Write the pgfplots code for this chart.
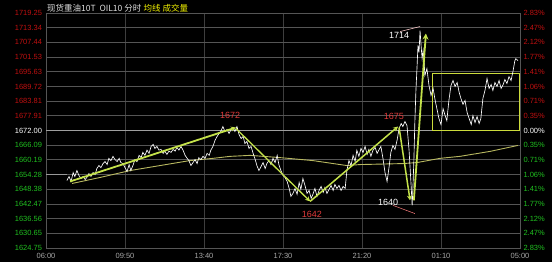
\documentclass[border=0pt]{standalone}
\usepackage{pgfplots}
\pgfplotsset{compat=1.18}
\usepackage{fontspec}
\setmainfont{Liberation Sans}
\newfontfamily\cjk{Noto Sans CJK SC}
\usetikzlibrary{arrows.meta}
\definecolor{gridc}{HTML}{555555}
\definecolor{vgridc}{HTML}{3E3E3E}
\definecolor{upred}{HTML}{C01010}
\definecolor{dngreen}{HTML}{20C020}
\definecolor{lime}{HTML}{C4E24A}
\definecolor{boxc}{HTML}{CCDC3C}
\definecolor{maline}{HTML}{B8B860}
\definecolor{lblred}{HTML}{E03A3A}
\definecolor{ttlc}{HTML}{E0E0E0}
\definecolor{ylw}{HTML}{F0F000}
\definecolor{xlbl}{HTML}{A8A8A8}
\begin{document}
\begin{tikzpicture}
\useasboundingbox (0,0) rectangle (552pt,262pt);
\fill[black] (0,0) rectangle (552pt,262pt);
\pgfplotsset{
  chartbase/.style={
    at={(46pt,14pt)}, anchor=south west,
    width=474pt, height=235pt, scale only axis,
    xmin=0, xmax=1380, ymin=1624.75, ymax=1719.25,
    /pgf/number format/assume math mode=true,
    major tick length=0pt,
    ytick={1624.75,1630.65,1636.56,1642.47,1648.38,1654.28,1660.19,1666.09,1672.00,1677.91,1683.81,1689.72,1695.63,1701.53,1707.44,1713.34,1719.25},
    tick label style={font=\fontsize{7.5}{8}\selectfont},
  }
}
\begin{axis}[chartbase,
  axis line style={draw=gridc},
  xtick={0,230,460,690,920,1150,1380},
  xticklabels={06:00,09:50,13:40,17:30,21:20,01:10,05:00},
  xticklabel style={text=xlbl, yshift=-1.5pt},
  yticklabels={
    \textcolor{dngreen}{1624.75},\textcolor{dngreen}{1630.65},\textcolor{dngreen}{1636.56},\textcolor{dngreen}{1642.47},\textcolor{dngreen}{1648.38},\textcolor{dngreen}{1654.28},\textcolor{dngreen}{1660.19},\textcolor{dngreen}{1666.09},
    \textcolor{white}{1672.00},
    \textcolor{upred}{1677.91},\textcolor{upred}{1683.81},\textcolor{upred}{1689.72},\textcolor{upred}{1695.63},\textcolor{upred}{1701.53},\textcolor{upred}{1707.44},\textcolor{upred}{1713.34},\textcolor{upred}{1719.25}},
  yticklabel style={xshift=-0.5pt},
  xmajorgrids, ymajorgrids,
  x grid style={draw=vgridc, line width=0.8pt},
  y grid style={draw=gridc, line width=0.8pt},
  clip=false,
]
% reference level
\addplot[draw=gray!75, line width=0.8pt] coordinates {(0,1672.00) (1380,1672.00)};
\addplot[draw=gray!80, line width=1pt] coordinates {(0,1654.28) (61,1654.28)};
% moving average
\addplot[draw=maline, line width=0.9pt] coordinates {
(76,1650.7) (157,1653.1) (245,1655.9) (332,1657.9) (419,1659.9) (486,1660.8) (536,1661.6) (594,1662.0)
(681,1661.1) (777,1659.9) (876,1657.9) (914,1658.3) (1039,1658.7) (1080,1659.1) (1147,1660.8) (1205,1661.6)
(1293,1663.6) (1374,1666.0)};
% box
\addplot[draw=boxc, line width=1.1pt] coordinates {(1124,1672.0) (1124,1694.9) (1379,1694.9) (1379,1672.0) (1124,1672.0)};
% price
\addplot[draw=white, line width=0.65pt] coordinates {
(61,1651.9) (67,1653.5) (73,1651.5) (79,1655.1) (84,1653.5) (90,1655.9) (96,1653.9) (102,1652.7) (108,1653.5)
(114,1652.3) (119,1653.1) (125,1654.7) (131,1653.5) (137,1655.1) (143,1654.3) (148,1656.7) (154,1657.9)
(160,1657.1) (166,1658.7) (172,1659.5) (178,1658.3) (183,1660.8) (189,1659.9) (195,1661.6) (201,1660.3)
(207,1659.5) (213,1660.8) (218,1659.1) (224,1658.7) (230,1657.1) (236,1655.5) (242,1658.3) (247,1655.9)
(253,1657.9) (259,1660.3) (265,1659.5) (271,1662.0) (277,1661.1) (282,1663.2) (288,1662.0) (294,1664.1)
(300,1662.8) (306,1665.6) (312,1666.4) (317,1664.8) (323,1665.6) (329,1664.1) (335,1664.4) (341,1662.8)
(346,1663.7) (352,1662.4) (358,1663.7) (364,1663.2) (370,1664.4) (376,1663.7) (381,1665.2) (387,1664.1)
(393,1665.6) (399,1664.1) (405,1662.0) (411,1660.8) (416,1659.9) (422,1657.9) (428,1659.1) (434,1660.3)
(440,1658.7) (445,1661.1) (451,1660.3) (457,1661.6) (463,1660.8) (469,1662.8) (475,1662.0) (480,1664.1)
(486,1665.6) (492,1668.0) (498,1669.6) (504,1670.8) (510,1672.0) (515,1673.6) (521,1671.6) (527,1672.4)
(533,1670.8) (539,1672.4) (545,1673.2) (550,1671.6) (556,1673.6) (562,1670.4) (568,1668.8) (574,1669.6)
(579,1666.8) (585,1667.6) (591,1664.8) (597,1665.6) (603,1662.8) (608,1660.8) (614,1657.9) (620,1655.9)
(626,1657.5) (632,1659.1) (638,1656.7) (643,1658.7) (649,1659.9) (655,1658.3) (661,1660.8) (667,1659.1)
(673,1662.0) (678,1658.3) (684,1655.9) (690,1653.9) (696,1653.1) (702,1651.5) (708,1648.7) (713,1645.5)
(719,1646.7) (725,1648.7) (731,1646.3) (737,1651.1) (742,1648.3) (748,1652.7) (754,1649.9) (760,1646.7)
(766,1647.9) (772,1644.7) (777,1646.3) (783,1648.7) (789,1645.5) (795,1647.9) (801,1649.5) (807,1647.1)
(812,1649.1) (818,1646.7) (824,1648.3) (830,1649.9) (836,1647.9) (841,1650.3) (847,1648.7) (853,1649.9)
(859,1647.9) (865,1649.5) (871,1648.7) (876,1655.9) (882,1659.9) (888,1657.9) (894,1662.0) (900,1659.5)
(905,1664.1) (911,1661.6) (917,1664.8) (923,1663.2) (929,1665.6) (935,1662.4) (940,1664.4) (946,1661.6)
(952,1664.1) (958,1665.2) (964,1662.8) (970,1664.4) (975,1665.6) (981,1660.8) (987,1655.1) (993,1651.5)
(999,1657.5) (1004,1663.2) (1010,1666.0) (1016,1664.4) (1022,1668.0) (1028,1672.8) (1034,1674.8) (1039,1673.6)
(1045,1675.6) (1051,1674.0) (1057,1664.1) (1063,1649.9) (1066,1641.9) (1068,1647.9) (1071,1659.9) (1074,1676.0)
(1077,1688.1) (1080,1696.9) (1083,1706.2) (1086,1703.4) (1089,1712.2) (1092,1706.2) (1095,1700.9) (1098,1704.2)
(1101,1699.3) (1103,1694.1) (1109,1696.9) (1115,1690.1) (1121,1686.1) (1127,1688.9) (1133,1684.1) (1138,1680.8)
(1144,1676.8) (1150,1674.4) (1156,1680.8) (1162,1678.0) (1167,1676.0) (1173,1684.1) (1179,1690.1) (1185,1692.1)
(1191,1689.7) (1197,1691.3) (1203,1687.3) (1208,1684.9) (1214,1682.5) (1220,1684.1) (1226,1679.2) (1232,1676.8)
(1238,1674.4) (1243,1678.0) (1249,1675.2) (1255,1677.6) (1261,1674.8) (1266,1676.8) (1272,1684.9) (1278,1688.1)
(1284,1692.9) (1290,1688.9) (1296,1690.5) (1301,1688.1) (1307,1691.3) (1313,1689.7) (1319,1692.1) (1325,1688.9)
(1331,1690.5) (1336,1692.5) (1342,1690.9) (1348,1693.7) (1354,1692.1) (1360,1696.1) (1365,1700.1) (1368,1700.9)
(1374,1700.1)};
% trend lines
\addplot[draw=lime, line width=1.8pt, -{Stealth[length=5pt,width=5pt]}] coordinates {(70,1651.5) (553,1673.2)};
\addplot[draw=lime, line width=1.3pt, -{Stealth[length=5pt,width=5pt]}] coordinates {(553,1672.8) (769,1643.5)};
\addplot[draw=lime, line width=1.5pt, -{Stealth[length=5pt,width=5pt]}] coordinates {(769,1643.5) (1025,1673.6)};
\addplot[draw=lime, line width=1.5pt, -{Stealth[length=5pt,width=5pt]}] coordinates {(1028,1673.2) (1060,1643.9)};
\addplot[draw=lime, line width=1.8pt, -{Stealth[length=6pt,width=6pt]}] coordinates {(1071,1643.9) (1106,1711.0)};
% thin pointer lines
\addplot[draw=white!80!red, line width=0.5pt] coordinates {(1031,1711.8) (1089,1713.8)};
\addplot[draw=red!50!white, line width=0.5pt] coordinates {(1010,1641.9) (1074,1638.6)};
% labels
\node[text=lblred, font=\fontsize{9}{10}\selectfont] at (axis cs:536,1678.0) {1672};
\node[text=lblred, font=\fontsize{9}{10}\selectfont] at (axis cs:774,1638.2) {1642};
\node[text=lblred, font=\fontsize{9}{10}\selectfont] at (axis cs:1013,1677.6) {1675};
\node[text=white, font=\fontsize{9}{10}\selectfont] at (axis cs:996,1643.1) {1640};
\node[text=white, font=\fontsize{9}{10}\selectfont] at (axis cs:1028,1710.2) {1714};
\end{axis}
\begin{axis}[chartbase,
  hide x axis,
  axis y line*=right,
  axis line style={draw=none},
  yticklabels={
    \textcolor{dngreen}{2.83\%},\textcolor{dngreen}{2.47\%},\textcolor{dngreen}{2.12\%},\textcolor{dngreen}{1.77\%},\textcolor{dngreen}{1.41\%},\textcolor{dngreen}{1.06\%},\textcolor{dngreen}{0.71\%},\textcolor{dngreen}{0.35\%},
    \textcolor{white}{0.00\%},
    \textcolor{upred}{0.35\%},\textcolor{upred}{0.71\%},\textcolor{upred}{1.06\%},\textcolor{upred}{1.41\%},\textcolor{upred}{1.77\%},\textcolor{upred}{2.12\%},\textcolor{upred}{2.47\%},\textcolor{upred}{2.83\%}},
]
\addplot[draw=none] coordinates {(0,1672) (1380,1672)};
\end{axis}
\node[anchor=west, inner sep=0pt, font=\fontsize{8.5}{9}\selectfont] at (47pt,254pt)
  {\textcolor{ttlc}{\cjk 现货重油10T\ \ OIL10 分时}\ \textcolor{ylw}{\cjk 均线 成交量}};
\end{tikzpicture}
\end{document}
